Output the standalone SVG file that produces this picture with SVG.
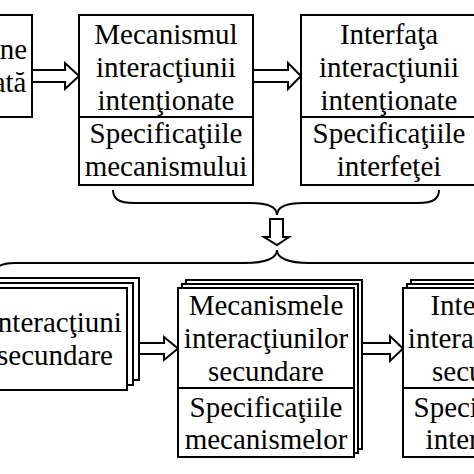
<svg xmlns="http://www.w3.org/2000/svg" width="474" height="474" viewBox="0 0 474 474">
<style>
.box{fill:#fff;stroke:#000;stroke-width:2}
.ln{fill:none;stroke:#000;stroke-width:2}
.arr{fill:#fff;stroke:#000;stroke-width:2;stroke-linejoin:miter}
text{font-family:"Liberation Serif","Times New Roman",serif;font-size:29px;fill:#000;text-anchor:middle}
</style>
<rect width="474" height="474" fill="#fff"/>
<g id="connectors">
<polygon class="arr" points="32,70 65,70 65,63 79,76 65,89 65,82 32,82"/>
<polygon class="arr" points="253,70 288,70 288,63 301,76 288,89 288,82 253,82"/>
<path class="ln" d="M113,190 C113,199 119,203 134,203 L250,203 C268,203 277,207 277,215 C277,207 286,203 304,203 L418,203 C433,203 439,199 439,190"/>
<polygon class="arr" points="270,219 283,219 283,237 289,237 277,245 264,237 270,237"/>
<path class="ln" d="M-8,276 C-5,267 0,263 15,263 L245,263 C266,263 277,258 277,250 C277,258 288,263 309,263 L480,263"/>
<polygon class="arr" points="139,343 164,343 164,337 178,348.5 164,360 164,354 139,354"/>
<polygon class="arr" points="362,343 390,343 390,336 403,348.5 390,361 390,354 362,354"/>
</g>
<g id="node1">
<rect class="box" x="-150" y="15" width="182" height="102"/>
<text x="-42" y="59">Interacţiune</text>
<text x="-42" y="92">intenţionată</text>
</g>
<g id="node2">
<rect class="box" x="79" y="15" width="174" height="170"/>
<line class="ln" x1="79" y1="117" x2="253" y2="117"/>
<text x="166" y="44">Mecanismul</text>
<text x="166" y="77">interacţiunii</text>
<text x="166" y="110">intenţionate</text>
<text x="166" y="143">Specificaţiile</text>
<text x="166" y="176">mecanismului</text>
</g>
<g id="node3">
<rect class="box" x="301" y="15" width="176" height="170"/>
<line class="ln" x1="301" y1="117" x2="477" y2="117"/>
<text x="389" y="44">Interfaţa</text>
<text x="389" y="77">interacţiunii</text>
<text x="389" y="110">intenţionate</text>
<text x="389" y="143">Specificaţiile</text>
<text x="389" y="176">interfeţei</text>
</g>
<g id="node4">
<rect class="box" x="-108" y="278" width="247" height="102"/>
<rect class="box" x="-114" y="283" width="247" height="102"/>
<rect class="box" x="-120" y="288" width="247" height="102"/>
<text x="55" y="332">Interacţiuni</text>
<text x="55" y="365">secundare</text>
</g>
<g id="node5">
<rect class="box" x="186" y="280" width="176" height="169"/>
<rect class="box" x="182" y="284" width="176" height="169"/>
<rect class="box" x="178" y="288" width="176" height="169"/>
<line class="ln" x1="178" y1="388" x2="354" y2="388"/>
<text x="266" y="315">Mecanismele</text>
<text x="266" y="348">interacţiunilor</text>
<text x="266" y="381">secundare</text>
<text x="266" y="417">Specificaţiile</text>
<text x="266" y="449">mecanismelor</text>
</g>
<g id="node6">
<rect class="box" x="411" y="280" width="176" height="169"/>
<rect class="box" x="407" y="284" width="176" height="169"/>
<rect class="box" x="403" y="288" width="176" height="169"/>
<line class="ln" x1="403" y1="388" x2="579" y2="388"/>
<text x="490" y="315">Interfeţele</text>
<text x="490" y="348">interacţiunilor</text>
<text x="490" y="381">secundare</text>
<text x="490" y="417">Specificaţiile</text>
<text x="490" y="449">interfeţelor</text>
</g>
</svg>
